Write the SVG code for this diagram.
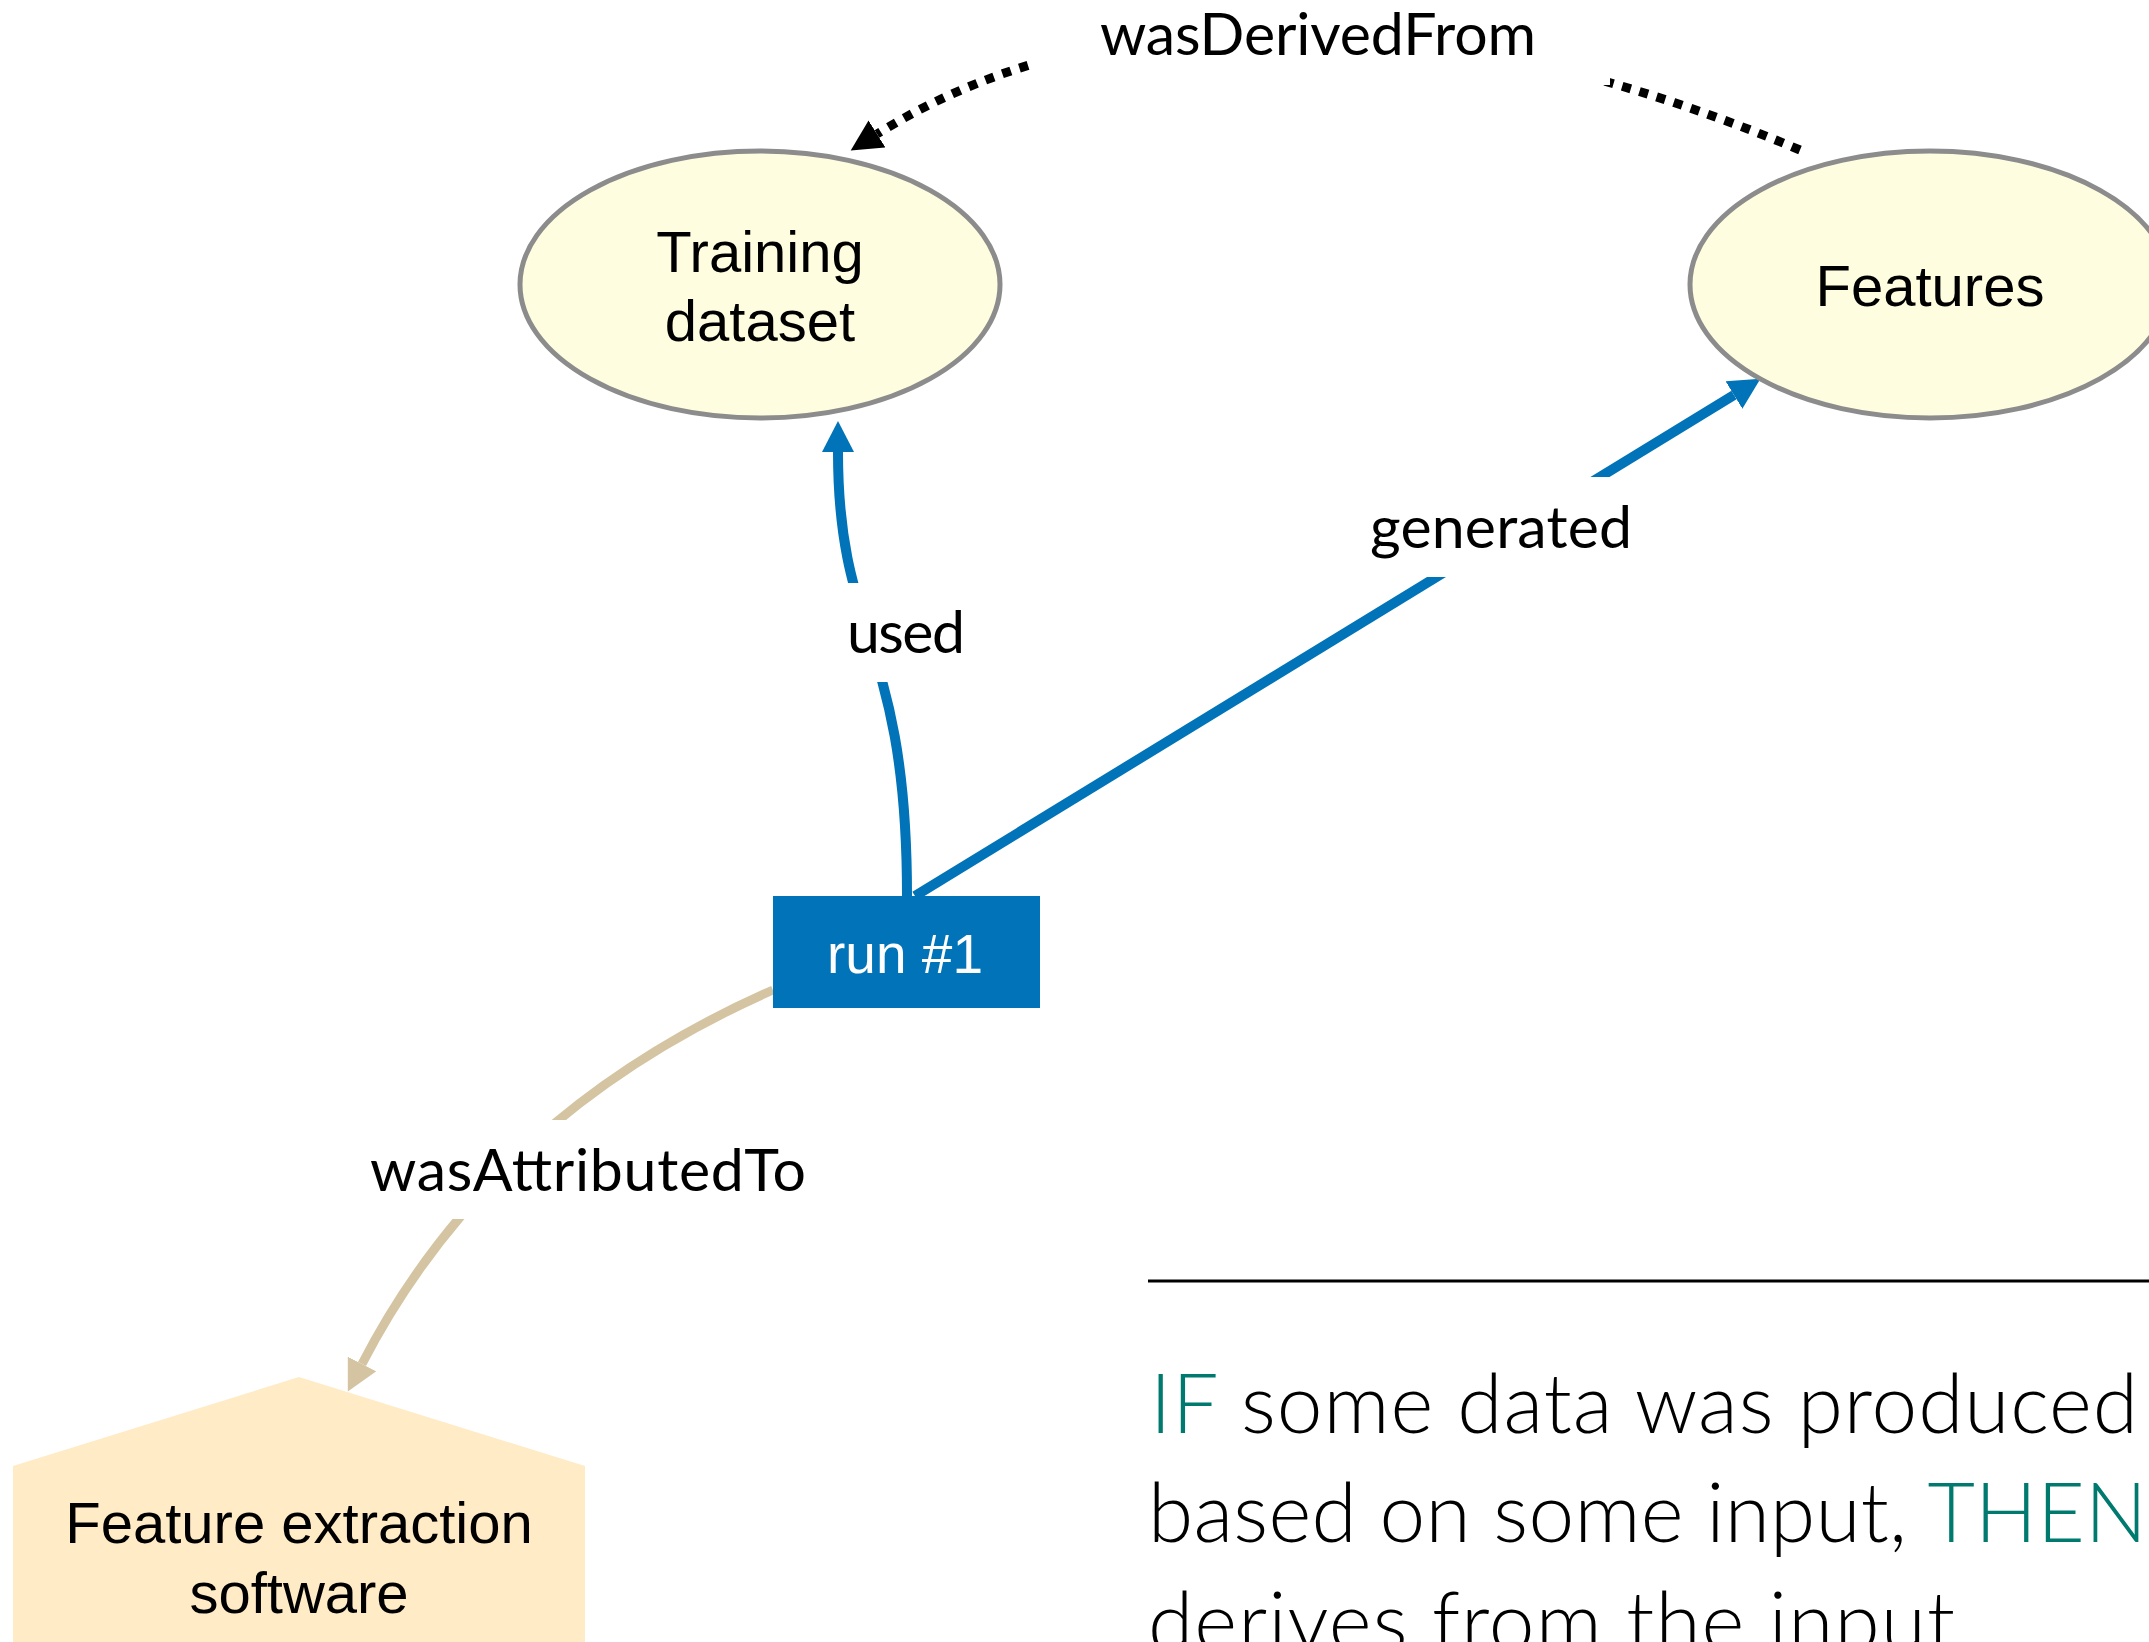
<svg xmlns="http://www.w3.org/2000/svg" width="2149" height="1642" viewBox="0 0 2149 1642">
  <style>
    .entity { fill: #FFFDE0; stroke: #8C8C8C; stroke-width: 5; }
    .agent { fill: #FFEBC6; stroke: none; }
    .activity { fill: #0173B8; }
    .nodeText { font-family: "Liberation Sans", Arial, sans-serif; font-size: 58px; fill: #000; text-anchor: middle; }
    .activityText { font-family: "Liberation Sans", Arial, sans-serif; font-size: 55px; fill: #fff; text-anchor: middle; }
    .edgeLabel { font-family: Lato, "Open Sans", sans-serif; font-size: 59px; fill: #000; text-anchor: middle; }
    .blue { fill: none; stroke: #0173B8; stroke-width: 10; }
    .tan { fill: none; stroke: #D4C4A2; stroke-width: 9; }
    .dotted { fill: none; stroke: #000; stroke-width: 9; stroke-dasharray: 9 9; }
    .body { font-family: Lato, "Open Sans", sans-serif; font-weight: 300; font-size: 82px; fill: #000; }
    .kw { fill: #00796F; }
  </style>
  <defs>
    <marker id="arrowBlue" markerUnits="userSpaceOnUse" viewBox="0 -16 32 32" refX="0" refY="0" markerWidth="32" markerHeight="32" orient="auto">
      <path d="M0,-16 L31,0 L0,16 Z" fill="#0173B8"/>
    </marker>
    <marker id="arrowTan" markerUnits="userSpaceOnUse" viewBox="0 -16 32 32" refX="0" refY="0" markerWidth="32" markerHeight="32" orient="auto">
      <path d="M0,-16 L31,0 L0,16 Z" fill="#D4C4A2"/>
    </marker>
    <marker id="arrowBlack" markerUnits="userSpaceOnUse" viewBox="0 -16 32 32" refX="0" refY="0" markerWidth="32" markerHeight="32" orient="auto">
      <path d="M0,-16 L31,0 L0,16 Z" fill="#000"/>
    </marker>
    <!-- openings in the connector strokes where the edge labels sit -->
    <mask id="labelGaps" maskUnits="userSpaceOnUse" x="0" y="0" width="2149" height="1642">
      <rect x="0" y="0" width="2149" height="1642" fill="#fff"/>
      <rect x="1031" y="-20" width="579" height="105" fill="#000"/>
      <rect x="800" y="583" width="200" height="99" fill="#000"/>
      <rect x="1300" y="477" width="400" height="100" fill="#000"/>
      <rect x="340" y="1120" width="500" height="99" fill="#000"/>
    </mask>
  </defs>

  <!-- connectors -->
  <g id="connectors">
    <g mask="url(#labelGaps)">
      <path id="edge-wasDerivedFrom" class="dotted" d="M1800,150 C1496,22 1140,-30 877,134" marker-end="url(#arrowBlack)"/>
      <path id="edge-used" class="blue" d="M907,896 C907,640 838,640 838,452" marker-end="url(#arrowBlue)"/>
      <path id="edge-generated" class="blue" d="M915,896 L1734,395" marker-end="url(#arrowBlue)"/>
      <path id="edge-wasAttributedTo" class="tan" d="M773,990 Q491,1114 362,1364" marker-end="url(#arrowTan)"/>
    </g>
    <text class="edgeLabel" x="1318" y="55" textLength="436">wasDerivedFrom</text>
    <text class="edgeLabel" x="906" y="653" textLength="118">used</text>
    <text class="edgeLabel" x="1501" y="548" textLength="262">generated</text>
    <text class="edgeLabel" x="588" y="1191" textLength="436">wasAttributedTo</text>
  </g>

  <!-- entities -->
  <g id="node-training-dataset">
    <ellipse class="entity" cx="760" cy="284.5" rx="240" ry="133.5"/>
    <text class="nodeText" x="760" y="272">Training</text>
    <text class="nodeText" x="760" y="341">dataset</text>
  </g>
  <g id="node-features">
    <ellipse class="entity" cx="1930" cy="284.5" rx="240" ry="133.5"/>
    <text class="nodeText" x="1930" y="306">Features</text>
  </g>

  <!-- activity -->
  <g id="node-run1">
    <rect class="activity" x="773" y="896" width="267" height="112"/>
    <text class="activityText" x="905" y="973">run #1</text>
  </g>

  <!-- agent -->
  <g id="node-feature-extraction-software">
    <polygon class="agent" points="13,1466 299,1377 585,1466 585,1650 13,1650"/>
    <text class="nodeText" x="299" y="1543">Feature extraction</text>
    <text class="nodeText" x="299" y="1613">software</text>
  </g>

  <!-- rule statement -->
  <g id="rule">
    <line x1="1148" y1="1281" x2="2149" y2="1281" stroke="#000" stroke-width="3"/>
    <text class="body" x="1150" y="1433" textLength="988"><tspan class="kw">IF</tspan> some data was produced</text>
    <text class="body" x="1148" y="1542" textLength="999">based on some input, <tspan class="kw">THEN</tspan></text>
    <text class="body" x="1148" y="1651" textLength="807">derives from the input</text>
  </g>
</svg>
